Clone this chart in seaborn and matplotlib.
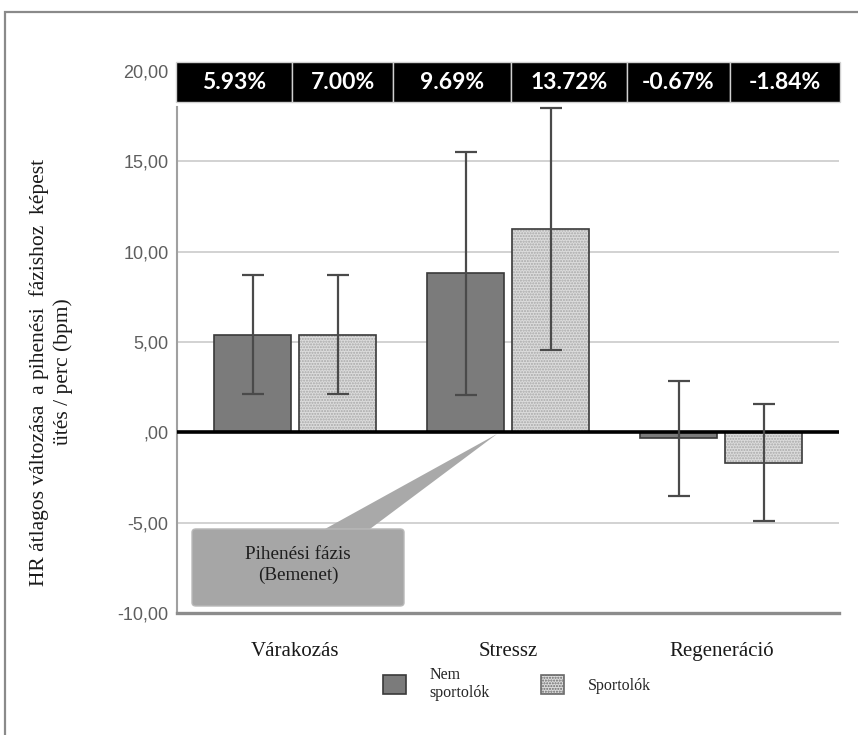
import matplotlib
matplotlib.use("Agg")
import matplotlib.pyplot as plt
import matplotlib.patches as mpatches
import numpy as np
import pandas as pd
import seaborn as sns

# ---- data ----
phases = ["Várakozás", "Stressz", "Regeneráció"]
groups = ["Nem\nsportolók", "Sportolók"]
nem_values = [5.41, 8.81, -0.33]
sport_values = [5.41, 11.24, -1.69]
nem_low = [2.14, 2.09, -3.50]
nem_high = [8.70, 15.50, 2.85]
sport_low = [2.14, 4.56, -4.91]
sport_high = [8.70, 17.94, 1.56]
pct_labels = ["5.93%", "7.00%", "9.69%", "13.72%", "-0.67%", "-1.84%"]
y_ticks = [-10, -5, 0, 5, 10, 15, 20]
y_ticklabels = ["-10,00", "-5,00", ",00", "5,00", "10,00", "15,00", "20,00"]

df = pd.DataFrame({
    "phase": phases * 2,
    "group": [groups[0]] * 3 + [groups[1]] * 3,
    "value": nem_values + sport_values,
})

sns.set_style("white")
plt.rcParams["font.family"] = ["DejaVu Sans"]

W, H = 858, 735
fig = plt.figure(figsize=(W / 100, H / 100), dpi=100)
ax = fig.add_axes([177 / W, 1 - 613 / H, (839 - 177) / W, (613 - 62) / H])

sns.barplot(data=df, x="phase", y="value", hue="group", order=phases,
            hue_order=groups, palette=["#7b7b7b", "#dcdcdc"], errorbar=None,
            width=0.8, gap=0.1, edgecolor="#3a3a3a", linewidth=1.2,
            legend=False, ax=ax, zorder=2)

# dotted texture on the "Sportolók" bars
for p in ax.containers[1]:
    bg = mpatches.Rectangle((p.get_x(), p.get_y()), p.get_width(), p.get_height(),
                            facecolor="#dcdcdc", linewidth=0, zorder=2.0)
    ax.add_patch(bg)
    ov = mpatches.Rectangle((p.get_x(), p.get_y()), p.get_width(), p.get_height(),
                            fill=False, hatch="......", edgecolor="#a8a8a8",
                            linewidth=0, zorder=2.1)
    ax.add_patch(ov)
    p.set_zorder(2.2)
    p.set_fill(False)

# error bars
for cont, vals, lo, hi in [(ax.containers[0], nem_values, nem_low, nem_high),
                           (ax.containers[1], sport_values, sport_low, sport_high)]:
    xs = [p.get_x() + p.get_width() / 2 for p in cont]
    v = np.array(vals)
    yerr = [v - np.array(lo), np.array(hi) - v]
    ax.errorbar(xs, v, yerr=yerr, fmt="none", ecolor="#4a4a4a", elinewidth=1.6,
                capsize=7.8, capthick=1.6, zorder=4)

ax.axhline(0, color="black", lw=2.6, zorder=3)

ax.set_xlim(-0.555, 2.553)
ax.set_ylim(-10, 20.5)
ax.set_yticks(y_ticks)
ax.set_yticklabels(y_ticklabels, fontsize=13, color="#5e5e5e",
                   fontfamily="Liberation Sans")
ax.set_xticks(range(len(phases)))
ax.set_xticklabels(phases, fontsize=15, color="#1a1a1a",
                   fontfamily="Liberation Serif")
ax.tick_params(axis="both", length=0)
ax.tick_params(axis="x", pad=21)
ax.tick_params(axis="y", pad=6)
ax.set_xlabel("")
ax.set_ylabel("")
ax.yaxis.grid(True, color="#d2d2d2", lw=1.4)
ax.set_axisbelow(True)

for s in ["top", "right"]:
    ax.spines[s].set_visible(False)
ax.spines["bottom"].set_color("#8c8c8c")
ax.spines["bottom"].set_linewidth(2.4)
ax.spines["left"].set_color("#a0a0a0")
ax.spines["left"].set_linewidth(1.5)
ax.spines["left"].set_bounds(-10, 18.0)

# black percentage band on top
edges = [-0.562, -0.013, 0.461, 1.015, 1.558, 2.041, 2.557]
for i, lab in enumerate(pct_labels):
    x0, x1 = edges[i], edges[i + 1]
    ax.add_patch(mpatches.Rectangle((x0, 18.28), x1 - x0, 20.5 - 18.28,
                                    facecolor="black", edgecolor="#d0d0d0",
                                    linewidth=1.0, clip_on=False, zorder=5))
    ax.text((x0 + x1) / 2, (18.28 + 20.5) / 2, lab, color="white",
            fontsize=16.5, fontweight="bold", fontfamily="Lato",
            ha="center", va="center", zorder=6, clip_on=False)

# callout
ax.add_patch(mpatches.Polygon([(0.2236, 0.1525), (0.2915, 0.1525), (0.4834, 0.3249)],
                              closed=True, facecolor="#a9a9a9", edgecolor="none",
                              transform=ax.transAxes, zorder=3.5))
ax.add_patch(mpatches.FancyBboxPatch((0.0227, 0.0127), 0.3202, 0.1398,
                                     boxstyle="round,pad=0,rounding_size=0.006",
                                     facecolor="#a6a6a6", edgecolor="#b8b8b8",
                                     linewidth=1.0, transform=ax.transAxes,
                                     zorder=3.6))
ax.text(0.1828, 0.0870, "Pihenési fázis\n(Bemenet)", transform=ax.transAxes,
        ha="center", va="center", fontsize=13.8, color="#1e1e1e",
        fontfamily="Liberation Serif", linespacing=1.3, zorder=3.7)

# y label
fig.text(51 / W, 1 - 372 / H,
         "HR átlagos változása  a pihenési  fázishoz  képest\nütés / perc (bpm)",
         rotation=90, ha="center", va="center", fontsize=15.5,
         fontfamily="Liberation Serif", color="#1a1a1a", linespacing=1.3)

# legend
handles = [mpatches.Patch(facecolor="#7b7b7b", edgecolor="#3a3a3a", lw=1.2),
           mpatches.Patch(facecolor="#dcdcdc", edgecolor="#6a6a6a", lw=1.2,
                          hatch="......")]
leg = fig.legend(handles, groups, loc="center", bbox_to_anchor=(517 / W, 1 - 684 / H),
                 ncol=2, frameon=False, prop={"family": "Liberation Serif", "size": 11.5},
                 handlelength=1.45, handleheight=1.45, handletextpad=1.5,
                 columnspacing=3.2)

# outer frame
fig.patches.append(mpatches.Rectangle((5 / W, -0.1), 1.2, (H - 12) / H + 0.1,
                                      transform=fig.transFigure, fill=False,
                                      edgecolor="#8a8a8a", linewidth=1.6))

fig.savefig("out.png", dpi=100)
